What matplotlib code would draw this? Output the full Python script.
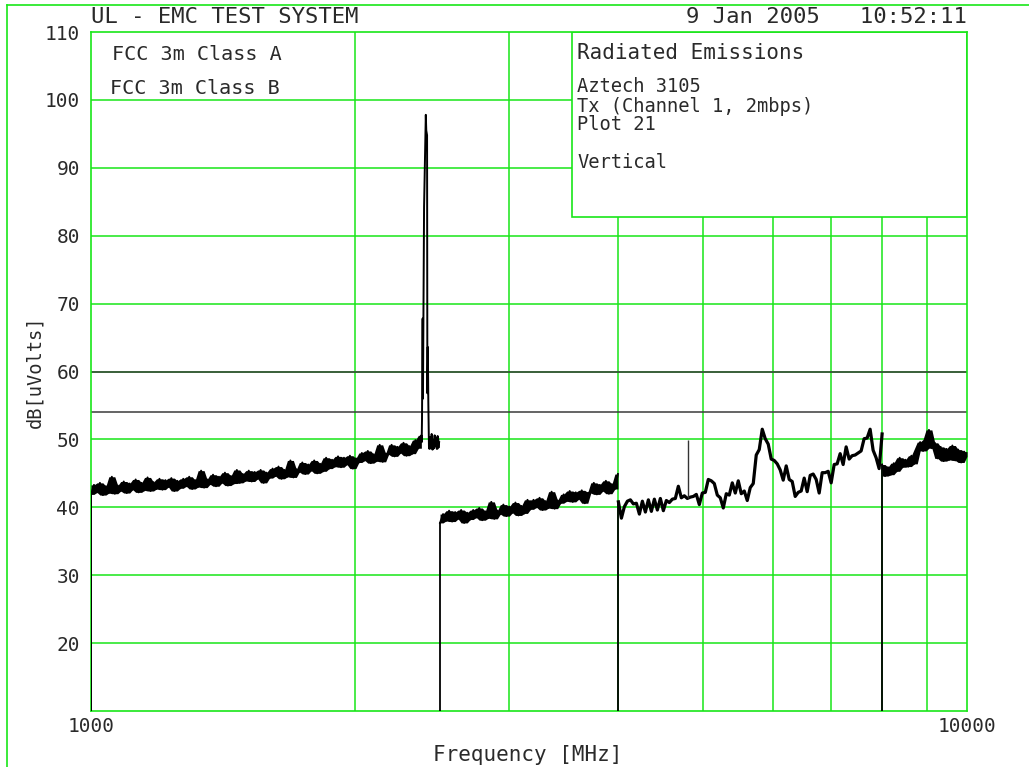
import numpy as np
import pandas as pd
import matplotlib
matplotlib.use('Agg')
import matplotlib.pyplot as plt
from matplotlib.patches import Rectangle
from matplotlib.lines import Line2D

# analyser floor: every band sweep starts from here
FLOOR = 10

# band 1: 1000 - 2383 MHz
seg1_level = [
    41.9, 43.3, 42.2, 43.6, 41.8, 43.1, 42.1, 44.5, 42.0, 43.2,
    42.4, 43.8, 42.1, 43.5, 42.6, 44.1, 42.2, 43.6, 42.5, 44.4,
    42.4, 43.7, 42.7, 44.2, 42.6, 44.0, 43.0, 44.3, 42.4, 43.9,
    42.8, 44.2, 43.1, 44.5, 42.7, 44.0, 43.0, 45.4, 42.9, 44.1,
    43.4, 44.8, 43.1, 44.5, 43.6, 45.1, 43.2, 44.6, 43.5, 45.5,
    43.6, 44.9, 43.9, 45.4, 43.8, 45.2, 44.2, 45.5, 43.6, 45.1,
    44.3, 45.7, 44.6, 46.0, 44.2, 45.5, 44.5, 46.9, 44.4, 45.6,
    45.2, 46.6, 44.9, 46.3, 45.4, 46.9, 45.0, 46.4, 45.3, 47.3,
    45.7, 47.0, 46.0, 47.5, 45.9, 47.3, 46.3, 47.6, 45.7, 47.2,
    46.6, 48.0, 46.9, 48.3, 46.5, 47.8, 46.8, 49.2, 46.7, 47.9,
    47.8, 49.2, 47.5, 48.9, 48.0, 49.5, 47.6, 49.0, 47.9, 49.9,
    48.7, 50.6,
]
seg1_range = (1000, 2383)

# 2.4 GHz carrier (Channel 1)
carrier_freq = [2385, 2387, 2391, 2393, 2400, 2406, 2411, 2414, 2419, 2421, 2424, 2427, 2431]
carrier_level = [49.6, 52.9, 67.8, 56.0, 84.2, 92.0, 97.8, 95.5, 94.8, 56.8, 63.6, 55.5, 49.0]

tail_level = [48.6, 50.3, 48.9, 50.8, 48.5, 49.9, 48.7, 50.6, 49.0, 50.2, 48.6, 50.5, 48.8, 49.6]
tail_range = (2434, 2497)

# band 2: 2503 - 3995 MHz
seg2_level = [
    37.7, 39.0, 38.0, 39.5, 37.9, 39.3, 38.3, 39.6, 37.7, 39.2,
    38.2, 39.6, 38.5, 39.9, 38.1, 39.4, 38.4, 40.8, 38.3, 39.5,
    39.0, 40.4, 38.7, 40.1, 39.2, 40.7, 38.8, 40.2, 39.1, 41.1,
    39.7, 41.1, 40.0, 41.4, 39.6, 40.9, 39.9, 42.3, 39.8, 41.0,
    40.6, 41.9, 40.9, 42.4, 40.8, 42.2, 41.2, 42.5, 40.6, 42.1,
    42.2, 43.6, 41.9, 43.3, 42.4, 43.9, 42.0, 43.4, 42.7, 44.9,
]
seg2_range = (2503, 3995)

# band 3: 4000 - 8000 MHz
seg3_level = [
    40.8, 38.4, 40.1, 40.9, 41.1, 40.5, 40.6, 39.0, 40.9, 39.3,
    41.1, 39.4, 41.2, 39.6, 41.3, 39.5, 41.0, 40.7, 41.2, 41.3,
    43.1, 41.4, 41.7, 41.3, 41.5, 41.6, 41.9, 40.4, 42.1, 42.2,
    44.1, 43.9, 43.5, 41.8, 41.4, 39.9, 42.0, 41.8, 43.6, 42.1,
    43.9, 42.0, 42.4, 41.0, 42.9, 43.5, 47.7, 48.5, 51.5, 50.1,
    49.3, 47.1, 46.9, 46.4, 45.5, 44.0, 46.1, 44.1, 43.8, 41.6,
    42.2, 42.4, 44.3, 42.3, 44.7, 44.9, 44.1, 42.1, 45.1, 45.1,
    45.3, 43.6, 46.3, 46.4, 47.9, 46.3, 48.9, 47.1, 47.6, 47.7,
    48.0, 48.3, 50.1, 50.2, 51.5, 48.4, 47.3, 45.7, 50.8,
]
seg3_range = (4000, 8000)

# band 4: 8000 - 10000 MHz
seg4_level = [
    46.3, 44.6, 45.9, 44.8, 46.5, 45.3, 47.3, 45.9, 47.0, 46.0,
    47.6, 46.4, 48.6, 49.6, 48.3, 50.0, 51.4, 48.7, 49.5, 47.2,
    48.9, 46.8, 48.6, 47.0, 49.1, 46.9, 48.5, 46.6, 48.2, 47.5,
]
seg4_range = (8000, 10000)

# narrow spur
spur_freq = [4800]
spur_base = [41.4]
spur_peak = [49.9]

# limit lines
limit_names = ['FCC 3m Class A', 'FCC 3m Class B']
limit_levels = [60, 54]

x_grid = [2000, 3000, 4000, 5000, 6000, 7000, 8000, 9000]
y_grid = [20, 30, 40, 50, 60, 70, 80, 90, 100]
y_ticks = [20, 30, 40, 50, 60, 70, 80, 90, 100, 110]

info_lines = ['Aztech 3105', 'Tx (Channel 1, 2mbps)', 'Plot 21']

GREEN = '#19e619'
INK = '#2a2a2a'
MONO = 'DejaVu Sans Mono'

fig = plt.figure(figsize=(10.29, 7.67), dpi=100)
ax = fig.add_axes([91 / 1029, 1 - 711 / 767, 876 / 1029, 679 / 767])
ax.set_xscale('log')
ax.set_xlim(1000, 10000)
ax.set_ylim(10, 110)

for s in ax.spines.values():
    s.set_color(GREEN)
    s.set_linewidth(1.2)

ax.xaxis.set_minor_locator(matplotlib.ticker.NullLocator())
ax.set_xticks([1000, 10000])
ax.set_xticklabels(['1000', '10000'])
ax.set_yticks(y_ticks)
ax.set_yticklabels([str(v) for v in y_ticks])
ax.tick_params(length=0, labelsize=14, labelcolor=INK)
ax.tick_params(axis='y', pad=8)
ax.tick_params(axis='x', pad=4)
for lab in ax.get_xticklabels() + ax.get_yticklabels():
    lab.set_family(MONO)

# grid
for g in x_grid:
    ax.axvline(g, color=GREEN, lw=1.1, zorder=1)
for g in y_grid:
    ax.axhline(g, color=GREEN, lw=1.1, zorder=1)

# limits
for lv in limit_levels:
    ax.axhline(lv, color='#3a3a3a', lw=1.1, zorder=1.5)

# info box top right
bx = (572 - 91) / 876
by = 1 - (217 - 32) / 679
ax.add_patch(Rectangle((bx, by), 1 - bx, 1 - by, transform=ax.transAxes,
                       facecolor='white', edgecolor=GREEN, lw=1.2, zorder=2))


def sweep(rng, levels):
    f = np.geomspace(rng[0], rng[1], len(levels))
    return f, np.asarray(levels, dtype=float)


def noise_band(f, l):
    # min/max hold over neighbouring sweep points -> the solid trace band
    s = pd.Series(l)
    lo = s.rolling(3, center=True, min_periods=1).min()
    hi = s.rolling(3, center=True, min_periods=1).max()
    ax.fill_between(f, lo, hi, color='black', lw=0, zorder=3)


f1, l1 = sweep(seg1_range, seg1_level)
ft, lt = sweep(tail_range, tail_level)
noise_band(f1, l1)
noise_band(ft, lt)
ax.plot(np.r_[f1[0], f1, carrier_freq, ft], np.r_[FLOOR, l1, carrier_level, lt],
        color='black', lw=1.4, zorder=3)

for rng, lev, solid in [(seg2_range, seg2_level, True),
                        (seg3_range, seg3_level, False),
                        (seg4_range, seg4_level, True)]:
    f, l = sweep(rng, lev)
    # riser from the floor where the band sweep starts
    ax.plot([f[0], f[0]], [FLOOR, l[0]], color='black', lw=1.3, zorder=3)
    if solid:
        noise_band(f, l)
        ax.plot(f, l, color='black', lw=1.4, zorder=3)
    else:
        ax.plot(f, l, color='black', lw=2.3, zorder=3)

ax.vlines(spur_freq, spur_base, spur_peak, color='#333333', lw=1.0, zorder=3)

# text
fig.text(112 / 1029, 1 - 54 / 767, limit_names[0], family=MONO,
         fontsize=14.5, color=INK, va='center', ha='left', zorder=4)
fig.text(110 / 1029, 1 - 88 / 767, limit_names[1], family=MONO,
         fontsize=14.5, color=INK, va='center', ha='left', zorder=4)

fig.text(577 / 1029, 1 - 53 / 767, 'Radiated Emissions', family=MONO,
         fontsize=15, color=INK, va='center', ha='left')
for i, line in enumerate(info_lines):
    fig.text(577 / 1029, 1 - (87 + 19 * i) / 767, line, family=MONO,
             fontsize=13.5, color=INK, va='center', ha='left')
fig.text(577 / 1029, 1 - 163 / 767, 'Vertical', family=MONO,
         fontsize=13.5, color=INK, va='center', ha='left')

fig.text(91 / 1029, 1 - 17 / 767, 'UL - EMC TEST SYSTEM', family=MONO,
         fontsize=16, color=INK, va='center', ha='left')
fig.text(967 / 1029, 1 - 17 / 767, '9 Jan 2005   10:52:11', family=MONO,
         fontsize=16, color=INK, va='center', ha='right')

fig.text(528 / 1029, 1 - 755 / 767, 'Frequency [MHz]', family=MONO,
         fontsize=15, color=INK, va='center', ha='center')
fig.text(35 / 1029, 1 - 372 / 767, 'dB[uVolts]', family=MONO, rotation=90,
         fontsize=13.5, color=INK, va='center', ha='center')

# outer frame
fig.add_artist(Line2D([7 / 1029, 7 / 1029], [0, 1 - 5 / 767], color=GREEN, lw=1.2))
fig.add_artist(Line2D([7 / 1029, 1], [1 - 5 / 767, 1 - 5 / 767], color=GREEN, lw=1.2))

fig.savefig('out.png', dpi=100, facecolor='white')
